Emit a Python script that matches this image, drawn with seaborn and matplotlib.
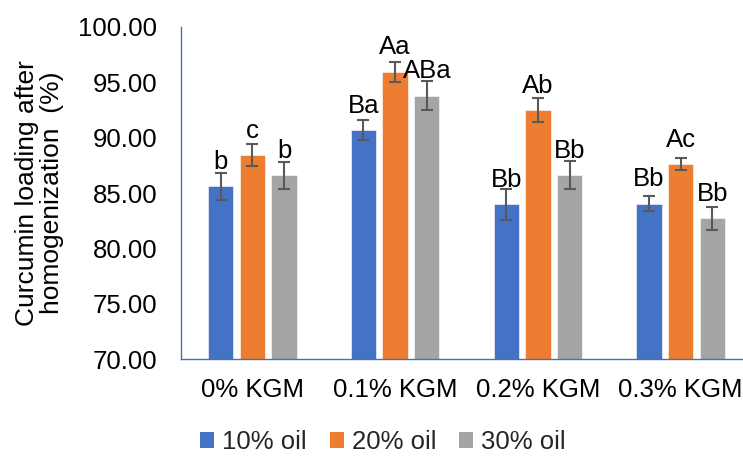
import numpy as np
import pandas as pd
import matplotlib
matplotlib.use("Agg")
import matplotlib.pyplot as plt
import seaborn as sns
from matplotlib.patches import Patch

# Curcumin loading (%) per KGM level and oil fraction
kgm_levels = ["0% KGM", "0.1% KGM", "0.2% KGM", "0.3% KGM"]
oil_levels = ["10% oil", "20% oil", "30% oil"]

oil10_mean = [85.6, 90.7, 84.0, 84.05]
oil20_mean = [88.4, 95.95, 92.5, 87.6]
oil30_mean = [86.6, 93.8, 86.6, 82.7]

oil10_sd = [1.2, 0.9, 1.4, 0.7]
oil20_sd = [1.0, 0.9, 1.1, 0.55]
oil30_sd = [1.2, 1.3, 1.25, 1.05]

oil10_labels = ["b", "Ba", "Bb", "Bb"]
oil20_labels = ["c", "Aa", "Ab", "Ac"]
oil30_labels = ["b", "ABa", "Bb", "Bb"]

colors = ["#4472C4", "#ED7D31", "#A5A5A5"]

means = [oil10_mean, oil20_mean, oil30_mean]
sds = [oil10_sd, oil20_sd, oil30_sd]
labels = [oil10_labels, oil20_labels, oil30_labels]

df = pd.DataFrame({
    "KGM": np.tile(kgm_levels, 3),
    "Oil": np.repeat(oil_levels, 4),
    "Loading": np.concatenate(means),
})

sns.set_theme(style="white")
plt.rcParams["font.family"] = ["Liberation Sans", "DejaVu Sans"]
FS = 18.5

fig = plt.figure(figsize=(7.43, 4.57), dpi=100)
ax = fig.add_axes([181 / 743, 1 - 359 / 457, 561 / 743, 332 / 457])

sns.barplot(data=df, x="KGM", y="Loading", hue="Oil", order=kgm_levels,
            hue_order=oil_levels, palette=colors, width=0.666, gap=0.2,
            errorbar=None, saturation=1, legend=False, ax=ax,
            edgecolor="white", linewidth=0.4)

for container, m, s, lab in zip(ax.containers, means, sds, labels):
    for bar, mv, sv, tx in zip(container, m, s, lab):
        xc = bar.get_x() + bar.get_width() / 2
        ax.errorbar(xc, mv, yerr=sv, color="#595959", lw=1.5,
                    capsize=4.0, capthick=1.5, zorder=3)
        ax.annotate(tx, (xc, mv), xytext=(0, 12.5), textcoords="offset points",
                    ha="center", va="baseline", fontsize=FS, color="black")

ax.set_ylim(70, 100)
ticks = np.arange(70, 100.1, 5)
ax.set_yticks(ticks)
ax.set_yticklabels([f"{v:.2f}" for v in ticks], fontsize=FS)
ax.set_xlim(-0.5, 3.43)
ax.set_xticks(np.arange(4))
ax.set_xticklabels(kgm_levels, fontsize=FS)
ax.tick_params(axis="both", length=0, labelcolor="black")
ax.tick_params(axis="y", pad=17)
ax.tick_params(axis="x", pad=13.5)

ax.set_xlabel("")
ax.set_ylabel("Curcumin loading after\nhomogenization  (%)", fontsize=19,
              linespacing=1.1, labelpad=10, color="black",
              multialignment="center")

for side in ["top", "right"]:
    ax.spines[side].set_visible(False)
for side in ["left", "bottom"]:
    ax.spines[side].set_color("#4a6fb5")
    ax.spines[side].set_linewidth(1.0)

handles = [Patch(facecolor=c, edgecolor="none") for c in colors]
fig.legend(handles, oil_levels, loc="center", bbox_to_anchor=(383 / 743, 1 - 442 / 457),
           ncol=3, frameon=False, fontsize=FS, handlelength=0.55, handleheight=0.55,
           handletextpad=0.3, columnspacing=0.9)

fig.savefig("out.png", dpi=100)
